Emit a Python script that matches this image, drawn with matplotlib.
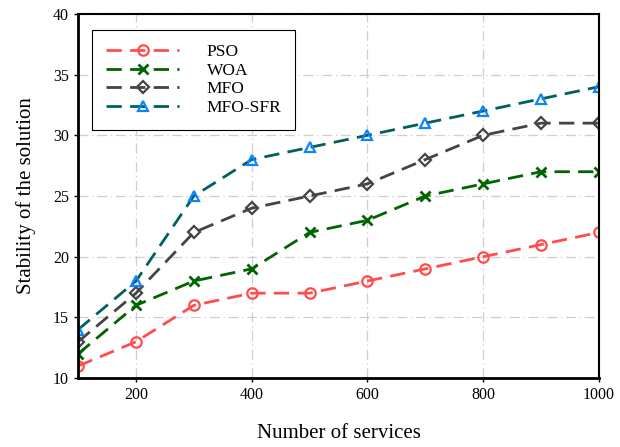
import matplotlib
matplotlib.use("Agg")
import matplotlib.pyplot as plt
from matplotlib.ticker import MultipleLocator

services = [100, 200, 300, 400, 500, 600, 700, 800, 900, 1000]
pso = [11, 13, 16, 17, 17, 18, 19, 20, 21, 22]
woa = [12, 16, 18, 19, 22, 23, 25, 26, 27, 27]
mfo = [13, 17, 22, 24, 25, 26, 28, 30, 31, 31]
mfo_sfr = [14, 18, 25, 28, 29, 30, 31, 32, 33, 34]

plt.rcParams["font.family"] = ["Liberation Serif", "DejaVu Serif"]

fig = plt.figure(figsize=(6.2, 4.47), dpi=100)
ax = fig.add_axes([0.126, 0.154, 0.840, 0.815])

dash = (0, (5.5, 3))
ax.plot(services, pso, linestyle=dash, color="#ff4d4d", marker="o", ms=7.5,
        mfc="none", mec="#ff4d4d", mew=1.6, lw=2, label="PSO")
ax.plot(services, woa, linestyle=dash, color="#006400", marker="x", ms=7,
        mew=2, lw=2, label="WOA")
ax.plot(services, mfo, linestyle=dash, color="#444444", marker="D", ms=6.5,
        mfc="none", mec="#444444", mew=1.6, lw=2, label="MFO")
ax.plot(services, mfo_sfr, linestyle=dash, color="#006060", marker="^", ms=7.5,
        mfc="none", mec="#0a84ff", mew=1.6, lw=2, label="MFO-SFR")

ax.set_xlim(100, 1000)
ax.set_ylim(10, 40)
ax.set_xticks([200, 400, 600, 800, 1000])
ax.yaxis.set_major_locator(MultipleLocator(5))
ax.tick_params(direction="out", length=3, width=1, labelsize=11.5)
ax.grid(True, color="#cfcfcf", linestyle=(0, (8, 3, 1, 3)), lw=0.9)
ax.spines["left"].set_linewidth(2)
ax.spines["bottom"].set_linewidth(2)
ax.spines["top"].set_linewidth(1.5)
ax.spines["right"].set_linewidth(1.5)

ax.set_xlabel("Number of services", fontsize=15, labelpad=15)
ax.set_ylabel("Stability of the solution", fontsize=15, labelpad=12)

leg = ax.legend(loc="upper left", bbox_to_anchor=(0.027, 0.956), fontsize=12.5,
                handlelength=4.2, handletextpad=1.6, labelspacing=0.15,
                borderpad=0.8, borderaxespad=0, fancybox=False, framealpha=1,
                edgecolor="black")
leg.get_frame().set_linewidth(0.8)

fig.savefig("out.png", dpi=100)
